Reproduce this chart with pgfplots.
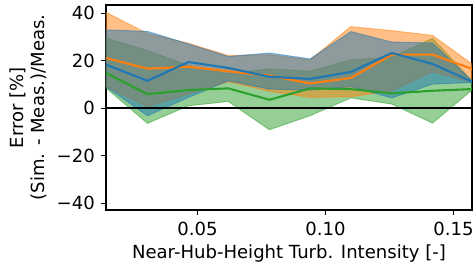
\documentclass[border=0pt]{standalone}
\usepackage{fontspec}
\setmainfont{DejaVu Sans}
\usepackage{pgfplots}
\pgfplotsset{compat=1.18}
\usepackage{pgfplotstable}
\usepgfplotslibrary{fillbetween}
\usetikzlibrary{calc}
\definecolor{c0}{HTML}{1F77B4}
\definecolor{c1}{HTML}{FF7F0E}
\definecolor{c2}{HTML}{2CA02C}
\pgfplotstableread{
x mean lo hi
0.0143 18.4 9.1 33.0
0.0305 11.6 -3.1 32.4
0.0465 19.5 4.6 27.1
0.0621 17.0 11.6 21.8
0.0781 13.3 8.1 23.3
0.0940 12.4 7.7 20.8
0.1099 15.3 9.1 32.3
0.1259 23.3 4.4 27.9
0.1418 18.7 10.2 27.5
0.1572 11.2 10.9 11.6
}\blue
\pgfplotstableread{
x mean lo hi
0.0143 21.2 9.1 40.4
0.0305 16.7 0.7 31.5
0.0465 17.5 6.0 27.4
0.0621 15.6 11.2 22.2
0.0781 13.8 7.2 22.6
0.0940 10.5 4.6 20.4
0.1099 12.8 4.9 34.4
0.1259 22.6 7.4 32.7
0.1418 22.6 15.4 30.7
0.1572 16.6 10.9 18.7
}\orange
\pgfplotstableread{
x mean lo hi
0.0143 14.9 8.6 29.6
0.0305 6.0 -6.3 24.3
0.0465 7.7 1.1 18.0
0.0621 8.4 2.9 14.7
0.0781 3.6 -9.0 16.6
0.0940 8.4 -3.1 15.6
0.1099 8.1 4.4 20.4
0.1259 6.3 1.8 21.5
0.1418 7.4 -6.2 29.5
0.1572 8.1 7.7 11.6
}\green
\begin{document}
\fontsize{13pt}{15.6pt}\selectfont
\begin{tikzpicture}
\begin{axis}[
  scale only axis,
  width=263.5pt, height=147.6pt,
  xmin=0.0143, xmax=0.1572,
  ymin=-42.8, ymax=43.5,
  xtick={0.05,0.10,0.15},
  xticklabels={0.05,0.10,0.15},
  ytick={-40,-20,0,20,40},
  yticklabels={−40,−20,0,20,40},
  tick align=outside,
  xtick pos=bottom, ytick pos=left,
  major tick length=3.5pt,
  every tick/.style={black, line width=0.8pt},
  axis line style={line width=0.8pt},
  tick label style={font=\fontsize{13pt}{15.6pt}\selectfont},
  label style={font=\fontsize{13pt}{15.6pt}\selectfont},
  xlabel={Near-Hub-Height Turb. Intensity [-]},
  ylabel={Error [\%]\\(Sim. - Meas.)/Meas.},
  ylabel style={align=center},
  xticklabel style={yshift=-1pt},
  xlabel style={yshift=3pt},
  ylabel style={yshift=-2pt},
]
\addplot[draw=none, name path=gh] table[x=x,y=hi]{\green};
\addplot[draw=none, name path=gl] table[x=x,y=lo]{\green};
\addplot[fill=c2, fill opacity=0.5, draw=c2, draw opacity=0.5, line width=0.7pt] fill between[of=gh and gl];
\addplot[draw=none, name path=oh] table[x=x,y=hi]{\orange};
\addplot[draw=none, name path=ol] table[x=x,y=lo]{\orange};
\addplot[fill=c1, fill opacity=0.5, draw=c1, draw opacity=0.5, line width=0.7pt] fill between[of=oh and ol];
\addplot[draw=none, name path=bh] table[x=x,y=hi]{\blue};
\addplot[draw=none, name path=bl] table[x=x,y=lo]{\blue};
\addplot[fill=c0, fill opacity=0.5, draw=c0, draw opacity=0.5, line width=0.7pt] fill between[of=bh and bl];
\addplot[black, line width=1.5pt] coordinates {(0.0143,0) (0.1572,0)};
\addplot[c2, line width=1.5pt] table[x=x,y=mean]{\green};
\addplot[c1, line width=1.5pt] table[x=x,y=mean]{\orange};
\addplot[c0, line width=1.5pt] table[x=x,y=mean]{\blue};
\end{axis}
\pgfresetboundingbox
\path ($(current axis.south west)+(-76.3pt,-37.4pt)$) rectangle ($(current axis.north east)+(2.9pt,3.6pt)$);
\end{tikzpicture}
\end{document}
